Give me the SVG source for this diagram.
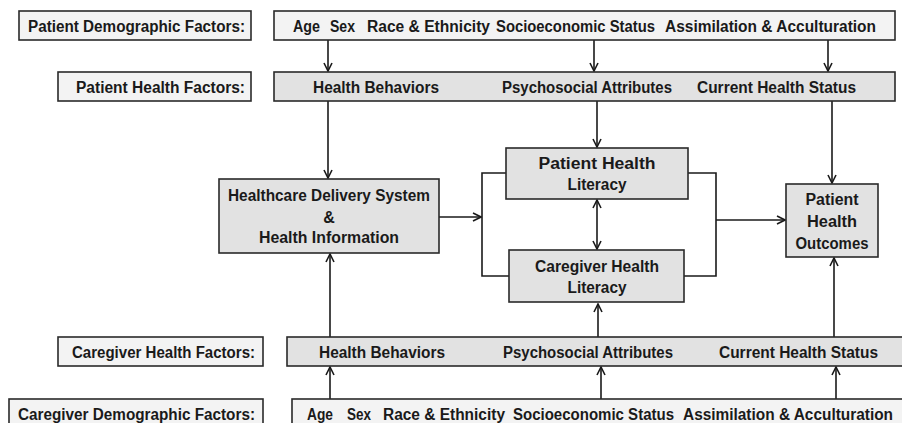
<svg xmlns="http://www.w3.org/2000/svg" width="902" height="423" viewBox="0 0 902 423">
<style>
.box{stroke:#2a2a2a;stroke-width:1.6;}
.w{fill:#f3f3f3;}
.g{fill:#e2e2e2;}
text{font-family:"Liberation Sans",Arial,sans-serif;font-weight:bold;font-size:16px;fill:#1a1a1a;}
.c{text-anchor:middle;}
.con{stroke:#1a1a1a;stroke-width:1.6;fill:none;}
</style>
<defs>
<marker id="ah" viewBox="0 0 10 10" refX="9" refY="5" markerWidth="10" markerHeight="10" markerUnits="userSpaceOnUse" orient="auto-start-reverse">
<path d="M1,1 L9,5 L1,9" fill="none" stroke="#1a1a1a" stroke-width="1.6"/>
</marker>
</defs>
<rect width="902" height="423" fill="#ffffff"/>

<g id="connectors">
<line class="con" x1="328" y1="40" x2="328" y2="71" marker-end="url(#ah)"/>
<line class="con" x1="594" y1="40" x2="594" y2="71" marker-end="url(#ah)"/>
<line class="con" x1="828" y1="40" x2="828" y2="71" marker-end="url(#ah)"/>
<line class="con" x1="328" y1="101" x2="328" y2="178" marker-end="url(#ah)"/>
<line class="con" x1="597" y1="101" x2="597" y2="147" marker-end="url(#ah)"/>
<line class="con" x1="832" y1="101" x2="832" y2="183" marker-end="url(#ah)"/>
<line class="con" x1="439" y1="217" x2="481" y2="217" marker-end="url(#ah)"/>
<polyline class="con" points="506,173 482,173 482,276 509,276"/>
<polyline class="con" points="688,173 716,173 716,276 684,276"/>
<line class="con" x1="716" y1="220" x2="785" y2="220" marker-end="url(#ah)"/>
<line class="con" x1="597" y1="200" x2="597" y2="249" marker-start="url(#ah)" marker-end="url(#ah)"/>
<line class="con" x1="330" y1="337" x2="330" y2="254" marker-end="url(#ah)"/>
<line class="con" x1="598" y1="337" x2="598" y2="304" marker-end="url(#ah)"/>
<line class="con" x1="834" y1="337" x2="834" y2="258" marker-end="url(#ah)"/>
<line class="con" x1="330" y1="399" x2="330" y2="367" marker-end="url(#ah)"/>
<line class="con" x1="601" y1="399" x2="601" y2="367" marker-end="url(#ah)"/>
<line class="con" x1="836" y1="399" x2="836" y2="367" marker-end="url(#ah)"/>
</g>

<g id="patient-demographic-label">
<rect class="box w" x="19" y="11" width="232" height="29"/>
<text x="28" y="32" textLength="217" lengthAdjust="spacingAndGlyphs">Patient Demographic Factors:</text>
</g>
<g id="patient-demographic-row">
<rect class="box w" x="274" y="11" width="621" height="29"/>
<text x="293" y="32" textLength="27" lengthAdjust="spacingAndGlyphs">Age</text>
<text x="330" y="32" textLength="25" lengthAdjust="spacingAndGlyphs">Sex</text>
<text x="367" y="32" textLength="123" lengthAdjust="spacingAndGlyphs">Race &amp; Ethnicity</text>
<text x="496" y="32" textLength="159" lengthAdjust="spacingAndGlyphs">Socioeconomic Status</text>
<text x="665" y="32" textLength="211" lengthAdjust="spacingAndGlyphs">Assimilation &amp; Acculturation</text>
</g>

<g id="patient-health-label">
<rect class="box w" x="58" y="72" width="193" height="29"/>
<text x="76" y="93" textLength="169" lengthAdjust="spacingAndGlyphs">Patient Health Factors:</text>
</g>
<g id="patient-health-row">
<rect class="box g" x="274" y="72" width="621" height="29"/>
<text x="313" y="93" textLength="126" lengthAdjust="spacingAndGlyphs">Health Behaviors</text>
<text x="502" y="93" textLength="170" lengthAdjust="spacingAndGlyphs">Psychosocial Attributes</text>
<text x="697" y="93" textLength="159" lengthAdjust="spacingAndGlyphs">Current Health Status</text>
</g>

<g id="healthcare-delivery">
<rect class="box g" x="219" y="179" width="220" height="74"/>
<text class="c" x="329" y="201" textLength="202" lengthAdjust="spacingAndGlyphs">Healthcare Delivery System</text>
<text class="c" x="329" y="223">&amp;</text>
<text class="c" x="329" y="243" textLength="140" lengthAdjust="spacingAndGlyphs">Health Information</text>
</g>

<g id="patient-health-literacy">
<rect class="box g" x="506" y="148" width="182" height="51"/>
<text class="c" x="597" y="169" textLength="117" lengthAdjust="spacingAndGlyphs">Patient  Health</text>
<text class="c" x="597" y="190" textLength="59" lengthAdjust="spacingAndGlyphs">Literacy</text>
</g>

<g id="caregiver-health-literacy">
<rect class="box g" x="509" y="250" width="175" height="52"/>
<text class="c" x="597" y="272" textLength="124" lengthAdjust="spacingAndGlyphs">Caregiver Health</text>
<text class="c" x="597" y="293" textLength="59" lengthAdjust="spacingAndGlyphs">Literacy</text>
</g>

<g id="patient-health-outcomes">
<rect class="box g" x="786" y="184" width="92" height="73"/>
<text class="c" x="832" y="205" textLength="53" lengthAdjust="spacingAndGlyphs">Patient</text>
<text class="c" x="832" y="227" textLength="50" lengthAdjust="spacingAndGlyphs">Health</text>
<text class="c" x="832" y="249" textLength="73" lengthAdjust="spacingAndGlyphs">Outcomes</text>
</g>

<g id="caregiver-health-label">
<rect class="box w" x="58" y="337" width="205" height="29"/>
<text x="72" y="358" textLength="183" lengthAdjust="spacingAndGlyphs">Caregiver Health Factors:</text>
</g>
<g id="caregiver-health-row">
<rect class="box g" x="287" y="337" width="620" height="29"/>
<text x="319" y="358" textLength="126" lengthAdjust="spacingAndGlyphs">Health Behaviors</text>
<text x="503" y="358" textLength="170" lengthAdjust="spacingAndGlyphs">Psychosocial Attributes</text>
<text x="719" y="358" textLength="159" lengthAdjust="spacingAndGlyphs">Current Health Status</text>
</g>

<g id="caregiver-demographic-label">
<rect class="box w" x="9" y="399" width="254" height="35"/>
<text x="18" y="420" textLength="237" lengthAdjust="spacingAndGlyphs">Caregiver  Demographic Factors:</text>
</g>
<g id="caregiver-demographic-row">
<rect class="box w" x="292" y="399" width="620" height="35"/>
<text x="307" y="420" textLength="26" lengthAdjust="spacingAndGlyphs">Age</text>
<text x="347" y="420" textLength="24" lengthAdjust="spacingAndGlyphs">Sex</text>
<text x="383" y="420" textLength="122" lengthAdjust="spacingAndGlyphs">Race &amp; Ethnicity</text>
<text x="513" y="420" textLength="161" lengthAdjust="spacingAndGlyphs">Socioeconomic Status</text>
<text x="683" y="420" textLength="210" lengthAdjust="spacingAndGlyphs">Assimilation &amp; Acculturation</text>
</g>
</svg>
